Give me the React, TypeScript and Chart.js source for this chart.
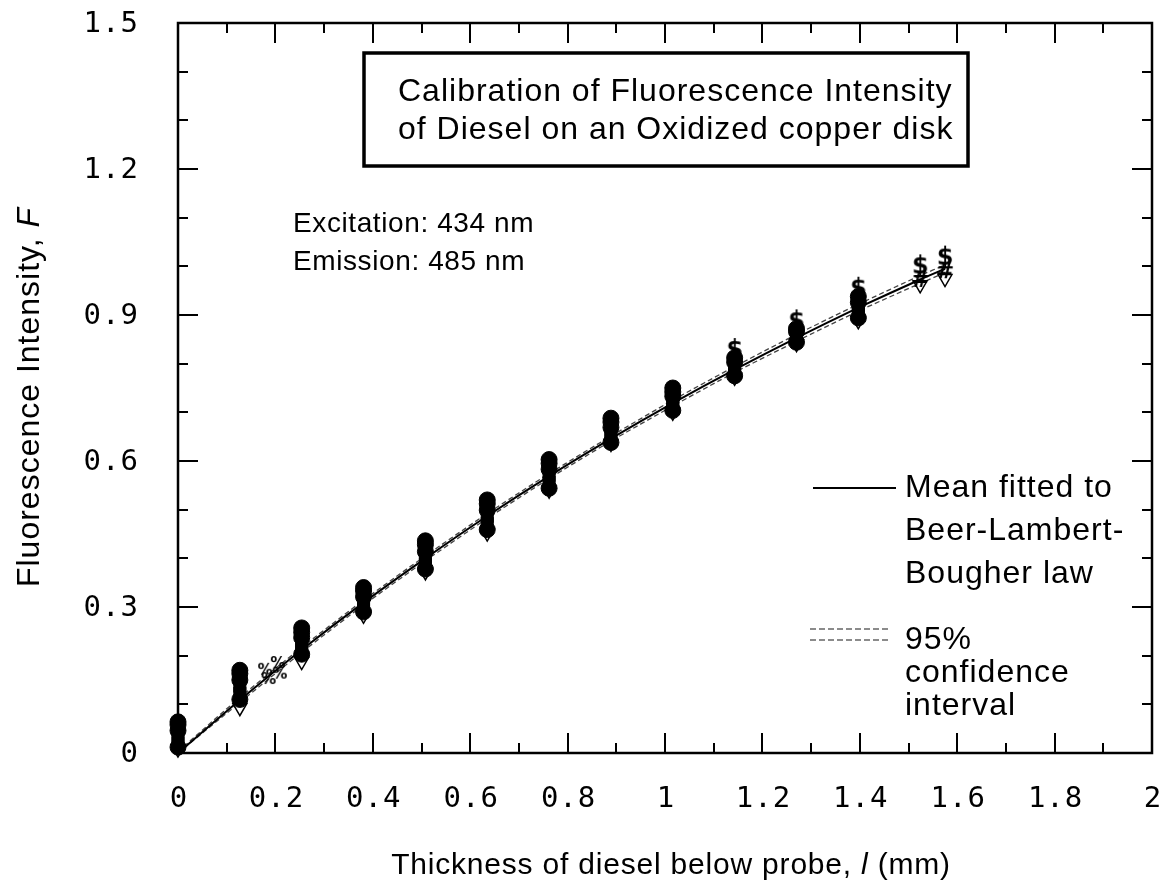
import React, { useEffect, useRef } from 'react';
import { Chart, registerables } from 'chart.js';
Chart.register(...registerables);

// ---- data ----
const thickness = [0, 0.127, 0.254, 0.381, 0.508, 0.635, 0.762, 0.889, 1.016, 1.143, 1.27, 1.397, 1.524, 1.575];
const runA = [0.058, 0.163, 0.248, 0.333, 0.428, 0.512, 0.595, 0.680, 0.742, 0.812, 0.872, 0.938, null, null];
const runB = [0.046, 0.150, 0.237, 0.321, 0.414, 0.499, 0.583, 0.669, 0.733, 0.803, 0.866, 0.926, null, null];
const runC = [0.034, 0.137, 0.226, 0.310, 0.401, 0.486, 0.570, 0.658, 0.723, 0.794, 0.859, 0.914, null, null];
const runD = [0.022, 0.123, 0.214, 0.299, 0.389, 0.472, 0.557, 0.647, 0.713, 0.784, 0.851, 0.903, null, null];
const runE = [0.012, 0.110, 0.203, 0.290, 0.378, 0.459, 0.544, 0.638, 0.704, 0.775, 0.844, 0.894, null, null];
const runF = [0.008, 0.093, 0.188, 0.283, 0.372, 0.452, 0.540, 0.636, 0.700, 0.772, 0.841, 0.888, 0.962, 0.975];
const runG = [0.064, 0.170, 0.257, 0.340, 0.436, 0.520, 0.603, 0.688, 0.750, null, null, null, null, null];
const runS = [null, null, null, null, null, null, null, null, null, 0.828, 0.887, 0.954, 1.000, 1.018];
const runH = [null, null, null, null, null, null, null, null, null, null, null, null, 0.972, 0.990];
const strayX = [0.179, 0.205, 0.186, 0.209];
const strayY = [0.171, 0.185, 0.152, 0.163];
const fitMean = [0, 0.109, 0.212, 0.309, 0.400, 0.487, 0.569, 0.646, 0.719, 0.788, 0.853, 0.915, 0.973, 0.995];
const ciUpper = [0.003, 0.114, 0.217, 0.314, 0.405, 0.492, 0.574, 0.651, 0.725, 0.794, 0.860, 0.922, 0.981, 1.003];
const ciLower = [0, 0.104, 0.207, 0.304, 0.395, 0.482, 0.564, 0.641, 0.713, 0.782, 0.846, 0.908, 0.965, 0.987];
const xTickValues = [0, 0.1, 0.2, 0.3, 0.4, 0.5, 0.6, 0.7, 0.8, 0.9, 1, 1.1, 1.2, 1.3, 1.4, 1.5, 1.6, 1.7, 1.8, 1.9, 2];
const yTickValues = [0, 0.1, 0.2, 0.3, 0.4, 0.5, 0.6, 0.7, 0.8, 0.9, 1, 1.1, 1.2, 1.3, 1.4, 1.5];
const xLabelValues = [0, 0.2, 0.4, 0.6, 0.8, 1, 1.2, 1.4, 1.6, 1.8, 2];
const xLabels = ['0', '0.2', '0.4', '0.6', '0.8', '1', '1.2', '1.4', '1.6', '1.8', '2'];
const yLabelValues = [0, 0.3, 0.6, 0.9, 1.2, 1.5];
const yLabels = ['0', '0.3', '0.6', '0.9', '1.2', '1.5'];
const titleLines = ['Calibration of Fluorescence Intensity', 'of Diesel on an Oxidized copper disk'];
const noteLines = ['Excitation: 434 nm', 'Emission: 485 nm'];
const meanLegend = ['Mean fitted to', 'Beer-Lambert-', 'Bougher law'];
const ciLegend = ['95%', 'confidence', 'interval'];

const pts = (ys: (number | null)[], xs: number[] = thickness) =>
  xs.map((x, i) => ({ x, y: ys[i] })).filter((p) => p.y !== null);

function glyph(ch: string, w: number, h: number, font: string): HTMLCanvasElement {
  const c = document.createElement('canvas');
  c.width = w; c.height = h;
  const g = c.getContext('2d')!;
  g.fillStyle = '#000';
  g.font = font;
  g.textAlign = 'center';
  g.textBaseline = 'middle';
  g.fillText(ch, w / 2, h / 2 + 1);
  return c;
}

const SANS = '"Liberation Sans", Arial, Helvetica, sans-serif';
const MONO = '"DejaVu Sans Mono", monospace';

function drawRich(ctx: CanvasRenderingContext2D, parts: { t: string; i?: boolean }[], x: number, y: number, size: number, align: 'left' | 'center') {
  const fontOf = (it?: boolean) => `${it ? 'italic ' : ''}${size}px ${SANS}`;
  let total = 0;
  for (const p of parts) { ctx.font = fontOf(p.i); total += ctx.measureText(p.t).width; }
  let cx = align === 'center' ? x - total / 2 : x;
  ctx.textAlign = 'left';
  ctx.textBaseline = 'middle';
  for (const p of parts) {
    ctx.font = fontOf(p.i);
    ctx.fillText(p.t, cx, y);
    cx += ctx.measureText(p.t).width;
  }
}

const decor = {
  id: 'decor',
  afterDraw(chart: any) {
    const { ctx, chartArea, scales } = chart;
    const { left, right, top, bottom } = chartArea;
    const xs = scales.x, ys = scales.y;
    ctx.save();
    ctx.strokeStyle = '#000';
    ctx.fillStyle = '#000';
    // frame
    ctx.lineWidth = 2.5;
    ctx.strokeRect(left, top, right - left, bottom - top);
    // inward ticks
    ctx.lineWidth = 2;
    ctx.beginPath();
    xTickValues.forEach((v, i) => {
      const px = Math.round(xs.getPixelForValue(v));
      const len = i % 2 === 0 ? 20 : 10;
      ctx.moveTo(px, bottom); ctx.lineTo(px, bottom - len);
      ctx.moveTo(px, top); ctx.lineTo(px, top + len);
    });
    yTickValues.forEach((v, i) => {
      const py = Math.round(ys.getPixelForValue(v));
      const len = i % 3 === 0 ? 20 : 10;
      ctx.moveTo(left, py); ctx.lineTo(left + len, py);
      ctx.moveTo(right, py); ctx.lineTo(right - len, py);
    });
    ctx.stroke();

    // tick labels
    (ctx as any).letterSpacing = '1px';
    ctx.font = `29px ${MONO}`;
    ctx.textBaseline = 'middle';
    ctx.textAlign = 'center';
    xLabelValues.forEach((v, i) => ctx.fillText(xLabels[i], xs.getPixelForValue(v) + 1, 799));
    ctx.textAlign = 'right';
    yLabelValues.forEach((v, i) => ctx.fillText(yLabels[i], 139, ys.getPixelForValue(v) + 1));

    // title box
    ctx.lineWidth = 3.5;
    ctx.strokeRect(364, 53, 604, 113);
    titleLines.forEach((t, i) => drawRich(ctx, [{ t }], 398, 92 + i * 38, 32, 'left'));
    // notes
    (ctx as any).letterSpacing = '0.6px';
    noteLines.forEach((t, i) => drawRich(ctx, [{ t }], 293, 224 + i * 38, 28, 'left'));
    (ctx as any).letterSpacing = '1px';
    // legend: mean
    ctx.lineWidth = 2;
    ctx.beginPath(); ctx.moveTo(813, 488); ctx.lineTo(896, 488); ctx.stroke();
    meanLegend.forEach((t, i) => drawRich(ctx, [{ t }], 905, 488 + i * 43, 32, 'left'));
    // legend: ci
    ctx.strokeStyle = '#666';
    ctx.lineWidth = 1.5;
    ctx.setLineDash([6, 3]);
    ctx.beginPath();
    ctx.moveTo(810, 629); ctx.lineTo(890, 629);
    ctx.moveTo(810, 640); ctx.lineTo(890, 640);
    ctx.stroke();
    ctx.setLineDash([]);
    ciLegend.forEach((t, i) => drawRich(ctx, [{ t }], 905, 640 + i * 33, 32, 'left'));
    // axis titles
    (ctx as any).letterSpacing = '0.8px';
    drawRich(ctx, [{ t: 'Thickness of diesel below probe, ' }, { t: 'l', i: true }, { t: ' (mm)' }], 671, 866, 30, 'center');
    (ctx as any).letterSpacing = '1px';
    ctx.save();
    ctx.translate(30, 397);
    ctx.rotate(-Math.PI / 2);
    drawRich(ctx, [{ t: 'Fluorescence Intensity, ' }, { t: 'F', i: true }], 0, 0, 32, 'center');
    ctx.restore();
    ctx.restore();
  },
};

export default function App() {
  const ref = useRef<HTMLCanvasElement>(null);
  useEffect(() => {
    const dollar = glyph('$', 20, 28, `bold 24px "DejaVu Sans", sans-serif`);
    const hash = glyph('#', 18, 26, `bold 22px "DejaVu Sans", sans-serif`);
    const pct = glyph('%', 18, 18, `bold 15px "DejaVu Sans", sans-serif`);
    const marker = (label: string, data: any[], style: any, extra: any = {}) => ({
      type: 'scatter' as const,
      label,
      data,
      pointStyle: style,
      pointRadius: 8,
      pointBackgroundColor: '#000',
      pointBorderColor: '#000',
      pointBorderWidth: 1,
      showLine: false,
      clip: false as any,
      ...extra,
    });
    const chart = new Chart(ref.current!, {
      type: 'scatter',
      data: {
        datasets: [
          marker('S', pts(runS), dollar),
          marker('H', pts(runH), hash),
          marker('G', pts(runG), 'circle'),
          marker('A', pts(runA), 'circle'),
          marker('B', pts(runB), 'circle'),
          marker('C', pts(runC), 'rect', { pointRadius: 8.5 }),
          marker('D', pts(runD), 'rect', { pointRadius: 8.5 }),
          marker('E', pts(runE), 'circle'),
          marker('F', pts(runF), 'triangle', { rotation: 180, pointRadius: 8, pointBackgroundColor: '#fff', pointBorderWidth: 1.5 }),
          marker('stray', pts(strayY, strayX), pct),
          {
            type: 'line' as const, label: 'fit', data: pts(fitMean), borderColor: '#000', borderWidth: 2,
            pointRadius: 0, tension: 0.2, fill: false,
          },
          {
            type: 'line' as const, label: 'ciU', data: pts(ciUpper), borderColor: '#444', borderWidth: 1.3,
            borderDash: [5, 3], pointRadius: 0, tension: 0.2, fill: false,
          },
          {
            type: 'line' as const, label: 'ciL', data: pts(ciLower), borderColor: '#444', borderWidth: 1.3,
            borderDash: [5, 3], pointRadius: 0, tension: 0.2, fill: false,
          },
        ] as any,
      },
      options: {
        animation: false,
        responsive: true,
        maintainAspectRatio: false,
        layout: { padding: { top: 23, right: 19, left: 178, bottom: 139 } },
        plugins: { legend: { display: false }, tooltip: { enabled: false } },
        events: [],
        scales: {
          x: { type: 'linear', min: 0, max: 2, display: false },
          y: { type: 'linear', min: 0, max: 1.5, display: false },
        },
      },
      plugins: [decor],
    });
    return () => chart.destroy();
  }, []);
  return (
    <div style={{ position: 'absolute', left: 0, top: 0, width: 1171, height: 892, background: '#fff' }}>
      <canvas ref={ref} />
    </div>
  );
}
